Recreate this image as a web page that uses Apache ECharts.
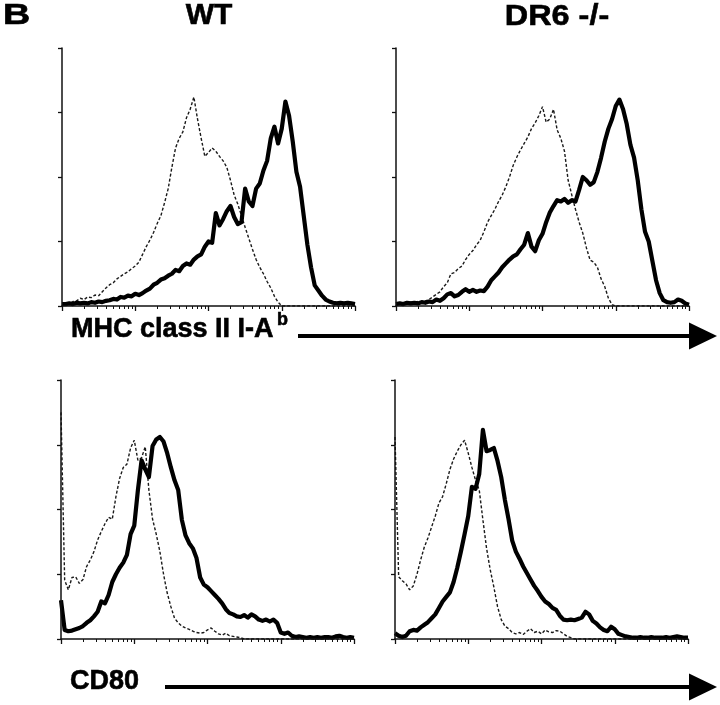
<!DOCTYPE html>
<html><head><meta charset="utf-8">
<script src="https://cdn.jsdelivr.net/npm/echarts@6/dist/echarts.min.js"></script>
<style>html,body{margin:0;padding:0;background:#fff}#c{width:720px;height:705px}</style>
</head><body><div id="c"></div>
<script>
// channel step in log10 decades (x axis spans 4 decades, 10^0..10^4)
const X_STEP = 0.05;
const panelTitles = ['WT', 'DR6 -/-'];
const rowLabels = ['MHC class II I-A', 'CD80'];
const rowLabelSup = ['b', ''];

// MHC class II, WT
const mhcWTStained = [0.03,0.03,0.04,0.03,0.05,0.04,0.05,0.04,0.06,0.05,0.07,0.06,0.08,0.09,0.11,0.10,0.14,0.13,0.16,0.15,0.19,0.17,0.20,0.24,0.27,0.33,0.36,0.41,0.43,0.47,0.50,0.56,0.54,0.62,0.66,0.64,0.72,0.77,0.80,0.92,1.00,0.98,1.44,1.25,1.35,1.47,1.55,1.38,1.27,1.30,1.82,1.62,1.55,1.82,1.90,2.10,2.25,2.60,2.78,2.52,2.75,3.17,2.95,2.55,2.08,1.85,1.40,0.95,0.60,0.32,0.24,0.16,0.10,0.07,0.05,0.04,0.05,0.04,0.05,0.04,0.03];
const mhcWTControl = [0.04,0.05,0.03,0.07,0.08,0.12,0.10,0.14,0.13,0.17,0.16,0.22,0.28,0.33,0.36,0.42,0.46,0.50,0.53,0.58,0.62,0.68,0.80,0.92,1.02,1.14,1.28,1.40,1.60,1.82,2.15,2.45,2.60,2.70,2.92,3.05,3.24,2.90,2.60,2.32,2.38,2.45,2.40,2.32,2.25,2.15,1.95,1.72,1.58,1.40,1.22,1.05,0.88,0.72,0.60,0.50,0.38,0.28,0.15,0.06,0,0,0,0,0,0,0,0,0,0,0,0,0,0,0,0,0,0,0,0,0];
// MHC class II, DR6 -/-
const mhcKOStained = [0.03,0.04,0.03,0.05,0.04,0.05,0.04,0.06,0.05,0.07,0.06,0.10,0.08,0.12,0.18,0.20,0.15,0.17,0.22,0.26,0.22,0.25,0.22,0.24,0.23,0.30,0.40,0.46,0.52,0.60,0.66,0.72,0.77,0.80,0.88,0.95,1.13,0.92,0.85,1.02,1.12,1.30,1.45,1.55,1.64,1.62,1.66,1.60,1.64,1.62,1.80,2.00,1.95,1.88,1.92,2.08,2.30,2.55,2.75,2.90,3.10,3.20,3.05,2.82,2.50,2.30,1.95,1.50,1.15,1.00,0.70,0.40,0.20,0.09,0.06,0.05,0.06,0.10,0.08,0.04,0.02];
const mhcKOControl = [0.03,0.02,0.04,0.03,0.06,0.05,0.07,0.06,0.08,0.10,0.14,0.18,0.22,0.30,0.36,0.50,0.52,0.58,0.62,0.72,0.80,0.86,0.95,1.02,1.15,1.30,1.40,1.50,1.62,1.72,1.85,2.00,2.18,2.31,2.42,2.52,2.62,2.75,2.84,2.95,3.09,2.85,2.90,3.05,2.73,2.60,2.40,1.95,1.72,1.50,1.30,1.13,0.90,0.71,0.68,0.60,0.42,0.30,0.12,0.02,0,0,0,0,0,0,0,0,0,0,0,0,0,0,0,0,0,0,0,0,0];
// CD80, WT
const cd80WTStained = [0.60,0.14,0.12,0.13,0.15,0.17,0.20,0.25,0.29,0.35,0.42,0.58,0.55,0.68,0.88,1.00,1.10,1.18,1.30,1.62,1.75,2.30,2.76,2.62,2.50,2.98,3.08,3.12,3.05,2.87,2.65,2.45,2.30,1.84,1.60,1.48,1.40,1.25,0.95,0.84,0.80,0.74,0.68,0.62,0.55,0.46,0.40,0.38,0.35,0.34,0.37,0.33,0.38,0.35,0.30,0.28,0.30,0.27,0.30,0.25,0.10,0.08,0.10,0.05,0.03,0.04,0.03,0.02,0.03,0.02,0.03,0.02,0.03,0.03,0.02,0.04,0.05,0.03,0.02,0.03,0.02];
const cd80WTControl = [3.50,0.91,0.76,0.95,0.96,0.86,0.92,1.12,1.22,1.35,1.53,1.66,1.78,1.88,1.85,2.20,2.48,2.65,2.70,2.95,3.07,2.76,2.80,2.97,2.30,1.85,1.62,1.35,1.00,0.71,0.50,0.32,0.25,0.20,0.17,0.15,0.12,0.10,0.09,0.10,0.14,0.17,0.12,0.08,0.06,0.09,0.05,0.04,0.03,0.02,0,0,0,0,0,0,0,0,0,0,0,0,0,0,0,0,0,0,0,0,0,0,0,0,0,0,0,0,0,0,0];
// CD80, DR6 -/-
const cd80KOStained = [0.09,0.05,0.03,0.05,0.12,0.14,0.13,0.18,0.22,0.26,0.32,0.38,0.48,0.58,0.65,0.72,0.88,1.10,1.35,1.62,1.90,2.35,2.32,2.55,3.23,2.90,2.92,2.95,2.75,2.50,2.15,1.85,1.52,1.35,1.24,1.12,1.02,0.92,0.82,0.74,0.65,0.58,0.54,0.48,0.45,0.36,0.30,0.29,0.30,0.29,0.31,0.33,0.42,0.38,0.28,0.24,0.18,0.14,0.12,0.19,0.15,0.08,0.06,0.04,0.03,0.02,0.02,0.03,0.02,0.02,0.03,0.02,0.02,0.02,0.03,0.02,0.03,0.04,0.03,0.02,0.02];
const cd80KOControl = [3.12,0.96,0.90,0.85,0.76,0.82,1.00,1.22,1.42,1.56,1.73,1.90,2.10,2.20,2.40,2.62,2.78,2.90,3.00,3.07,2.87,2.65,2.45,2.30,1.84,1.40,1.07,0.80,0.50,0.30,0.20,0.16,0.10,0.08,0.10,0.07,0.12,0.16,0.10,0.12,0.08,0.14,0.11,0.10,0.13,0.12,0.08,0.04,0.02,0,0,0,0,0,0,0,0,0,0,0,0,0,0,0,0,0,0,0,0,0,0,0,0,0,0,0,0,0,0,0,0];

const panels = [
  {grid:{left:62, top:48, width:293, height:258}, stained:mhcWTStained, control:mhcWTControl},
  {grid:{left:396, top:48, width:293, height:258}, stained:mhcKOStained, control:mhcKOControl},
  {grid:{left:61, top:380, width:293, height:259}, stained:cd80WTStained, control:cd80WTControl},
  {grid:{left:395, top:380, width:293, height:259}, stained:cd80KOStained, control:cd80KOControl}
];

// log-scale minor tick positions (2..9 within each decade)
const minorTicks = [];
for (let d = 0; d < 4; d++) for (let m = 2; m <= 9; m++) minorTicks.push(d + Math.log10(m));

const INK = '#111';
const grids = [], xAxes = [], yAxes = [], series = [];
panels.forEach((p, k) => {
  grids.push(Object.assign({containLabel:false}, p.grid));
  xAxes.push({gridIndex:k, type:'value', min:0, max:4, interval:1, position:'bottom',
    axisLine:{show:true, onZero:false, lineStyle:{color:INK, width:1.5}},
    axisTick:{show:true, length:5, lineStyle:{color:INK, width:1.3}},
    axisLabel:{show:false}, splitLine:{show:false}, z:5});
  xAxes.push({gridIndex:k, type:'value', min:0, max:4, position:'bottom',
    axisLine:{show:false, onZero:false},
    axisTick:{show:true, length:3, customValues:minorTicks, lineStyle:{color:INK, width:1}},
    axisLabel:{show:false}, splitLine:{show:false}});
  yAxes.push({gridIndex:k, type:'value', min:0, max:4, interval:1,
    axisLine:{show:true, onZero:false, lineStyle:{color:INK, width:1.5}},
    axisTick:{show:true, length:4, lineStyle:{color:INK, width:1.3}},
    axisLabel:{show:false}, splitLine:{show:false}, z:5});
  const toPts = ys => ys.map((y, i) => [i * X_STEP, y]);
  series.push({type:'line', xAxisIndex:2*k, yAxisIndex:k, data:toPts(p.control), showSymbol:false,
    lineStyle:{color:'#1a1a1a', width:1.4, type:[3,2]}, z:2, animation:false});
  series.push({type:'line', xAxisIndex:2*k, yAxisIndex:k, data:toPts(p.stained), showSymbol:false,
    lineStyle:{color:'#000', width:4.2, join:'round'}, z:3, animation:false});
});

const FAM = '"Liberation Sans", Arial, sans-serif';
function txt(text, x, y, size, sx, align) {
  return {type:'text', x:x, y:y, scaleX:sx,
    style:{text:text, font:'bold ' + size + 'px ' + FAM, fill:'#000', stroke:'#000', lineWidth:0.6,
      align:align||'left', verticalAlign:'middle'}};
}
function arrow(x1, x2, y) {
  return [
    {type:'line', shape:{x1:x1, y1:y, x2:x2, y2:y}, style:{stroke:'#000', lineWidth:4}},
    {type:'polygon', shape:{points:[[x2-2, y-13.5],[x2+26, y],[x2-2, y+13.5]]}, style:{fill:'#000'}}
  ];
}
const graphic = [
  txt('B', 3, 16, 29, 1.3),
  txt(panelTitles[0], 209, 16, 30, 1.0, 'center'),
  txt(panelTitles[1], 557, 17, 30, 1.08, 'center'),
  txt(rowLabels[0], 71, 330, 27, 1.0),
  txt(rowLabelSup[0], 277, 320, 18, 1.0),
  txt(rowLabels[1], 70, 682, 27, 1.0)
].concat(arrow(298, 691, 336)).concat(arrow(165, 691, 687));

const chart = echarts.init(document.getElementById('c'), null, {renderer:'canvas'});
chart.setOption({animation:false, backgroundColor:'#fff', grid:grids, xAxis:xAxes, yAxis:yAxes, series:series, graphic:graphic});
</script></body></html>
